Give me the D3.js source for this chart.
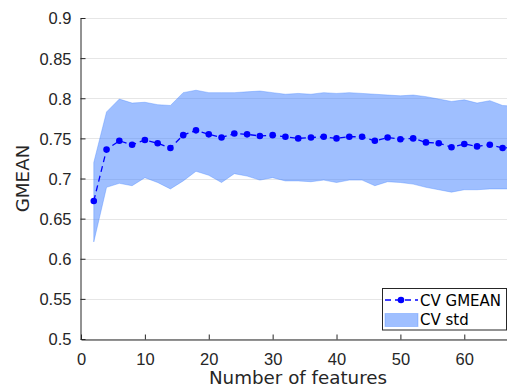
<!DOCTYPE html>
<meta charset="utf-8">
<head>
<style>
  body { margin: 0; background: #fff; }
  svg { font-family: "DejaVu Sans", sans-serif; }
  .tick text { fill: #262626; }
</style>
</head>
<body>
<script src="https://d3js.org/d3.v7.min.js"></script>
<script>
// number of features
var features = [2, 4, 6, 8, 10, 12, 14, 16, 18, 20, 22, 24, 26, 28, 30, 32, 34,
  36, 38, 40, 42, 44, 46, 48, 50, 52, 54, 56, 58, 60, 62, 64, 66, 68];
// mean CV GMEAN
var gmean = [0.672, 0.736, 0.747, 0.742, 0.748, 0.744, 0.738, 0.754, 0.760, 0.755, 0.751, 0.756,
  0.755, 0.753, 0.754, 0.752, 0.750, 0.751, 0.752, 0.750, 0.752, 0.752, 0.747, 0.751,
  0.749, 0.750, 0.745, 0.744, 0.739, 0.743, 0.740, 0.742, 0.738, 0.739];
// mean + std
var upper = [0.720, 0.783, 0.799, 0.794, 0.795, 0.792, 0.791, 0.807, 0.810, 0.807, 0.807, 0.807,
  0.808, 0.809, 0.807, 0.805, 0.806, 0.805, 0.807, 0.806, 0.807, 0.806, 0.805, 0.804,
  0.803, 0.804, 0.802, 0.799, 0.796, 0.798, 0.794, 0.797, 0.791, 0.790];
// mean - std
var lower = [0.621, 0.689, 0.694, 0.691, 0.701, 0.695, 0.687, 0.697, 0.709, 0.704, 0.695, 0.706,
  0.703, 0.698, 0.701, 0.697, 0.697, 0.696, 0.698, 0.695, 0.698, 0.698, 0.691, 0.696,
  0.695, 0.693, 0.689, 0.686, 0.683, 0.686, 0.686, 0.687, 0.687, 0.687];
var xTicks = [0, 10, 20, 30, 40, 50, 60];
var yTicks = [0.5, 0.55, 0.6, 0.65, 0.7, 0.75, 0.8, 0.85, 0.9];

var W = 507, H = 387;
var pLeft = 81, pRight = 509, pTop = 18, pBottom = 339;

var svg = d3.select("body").append("svg")
  .attr("width", W)
  .attr("height", H);

var x = d3.scaleLinear().domain([0, 67]).range([pLeft, pRight]);
var y = d3.scaleLinear().domain([0.5, 0.9]).range([pBottom, pTop]);

svg.append("clipPath").attr("id", "plot")
  .append("rect")
  .attr("x", pLeft).attr("y", pTop)
  .attr("width", pRight - pLeft).attr("height", pBottom - pTop);

// horizontal grid
svg.append("g")
  .selectAll("line")
  .data(yTicks)
  .enter().append("line")
  .attr("x1", pLeft).attr("x2", pRight)
  .attr("y1", function(d) { return Math.round(y(d)) + 0.5; })
  .attr("y2", function(d) { return Math.round(y(d)) + 0.5; })
  .attr("stroke", "#e6e6e6")
  .attr("stroke-width", 1);

var rows = features.map(function(f, i) {
  return { f: f, m: gmean[i], hi: upper[i], lo: lower[i] };
});

var area = d3.area()
  .x(function(d) { return x(d.f); })
  .y0(function(d) { return y(d.lo); })
  .y1(function(d) { return y(d.hi); });

var line = d3.line()
  .x(function(d) { return x(d.f); })
  .y(function(d) { return y(d.m); });

var plot = svg.append("g").attr("clip-path", "url(#plot)");

plot.append("path")
  .datum(rows)
  .attr("d", area)
  .attr("fill", "rgb(64,128,255)")
  .attr("fill-opacity", 0.5)
  .attr("stroke", "rgb(64,128,255)")
  .attr("stroke-opacity", 0.35)
  .attr("stroke-width", 1);

plot.append("path")
  .datum(rows)
  .attr("d", line)
  .attr("fill", "none")
  .attr("stroke", "#0000ff")
  .attr("stroke-width", 1.3)
  .attr("stroke-dasharray", "6,4");

plot.selectAll("circle")
  .data(rows)
  .enter().append("circle")
  .attr("cx", function(d) { return x(d.f); })
  .attr("cy", function(d) { return y(d.m); })
  .attr("r", 3.3)
  .attr("fill", "#0000ff");

// axes
var xAxis = d3.axisBottom(x).tickValues(xTicks).tickSizeInner(-5).tickSizeOuter(0).tickPadding(14);
var yAxis = d3.axisLeft(y).tickValues(yTicks).tickSizeInner(-5).tickSizeOuter(0).tickPadding(9)
  .tickFormat(function(d) { return String(+d.toFixed(2)); });

var gx = svg.append("g")
  .attr("transform", "translate(0," + (pBottom + 0.5) + ")")
  .call(xAxis);
var gy = svg.append("g")
  .attr("transform", "translate(" + (pLeft - 0.5) + ",0)")
  .call(yAxis);

[gx, gy].forEach(function(g) {
  g.select(".domain").attr("stroke", "#262626");
  g.selectAll(".tick line").attr("stroke", "#262626");
  g.selectAll(".tick text").attr("font-size", "16.5px");
});
gy.selectAll(".tick text").attr("dy", "0.36em");

svg.append("text")
  .attr("x", 298)
  .attr("y", 384)
  .attr("text-anchor", "middle")
  .attr("font-size", "18.3px")
  .attr("fill", "#262626")
  .text("Number of features");

svg.append("text")
  .attr("transform", "translate(29," + ((pTop + pBottom) / 2) + ") rotate(-90)")
  .attr("text-anchor", "middle")
  .attr("font-size", "18.3px")
  .attr("fill", "#262626")
  .text("GMEAN");

// legend
var lg = svg.append("g");
lg.append("rect")
  .attr("x", 382.5).attr("y", 288.5)
  .attr("width", 124).attr("height", 41.5)
  .attr("fill", "#fff")
  .attr("stroke", "#262626")
  .attr("stroke-width", 1);
lg.append("line")
  .attr("x1", 384).attr("x2", 418)
  .attr("y1", 300).attr("y2", 300)
  .attr("stroke", "#0000ff")
  .attr("stroke-width", 1.3)
  .attr("stroke-dasharray", "6,4")
  .attr("stroke-dashoffset", -1);
lg.append("circle")
  .attr("cx", 401).attr("cy", 300).attr("r", 3.3)
  .attr("fill", "#0000ff");
lg.append("rect")
  .attr("x", 385).attr("y", 313.5)
  .attr("width", 33).attr("height", 13)
  .attr("fill", "rgb(64,128,255)")
  .attr("fill-opacity", 0.5)
  .attr("stroke", "rgb(64,128,255)")
  .attr("stroke-opacity", 0.35);
lg.append("text")
  .attr("x", 420).attr("y", 306)
  .attr("font-size", "15px")
  .attr("fill", "#000")
  .text("CV GMEAN");
lg.append("text")
  .attr("x", 420).attr("y", 324.5)
  .attr("font-size", "15px")
  .attr("fill", "#000")
  .text("CV std");
</script>
</body>
